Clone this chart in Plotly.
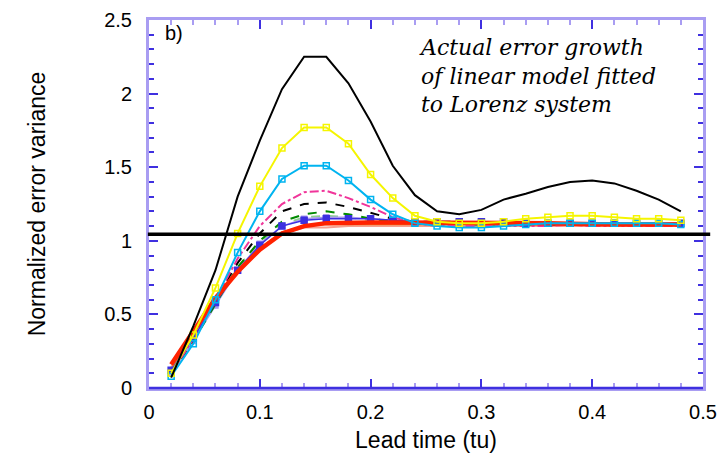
import plotly.graph_objects as go

lead_time = [0.02, 0.04, 0.06, 0.08, 0.10, 0.12, 0.14, 0.16, 0.18, 0.20, 0.22, 0.24,
             0.26, 0.28, 0.30, 0.32, 0.34, 0.36, 0.38, 0.40, 0.42, 0.44, 0.46, 0.48]

black_top = [0.07, 0.42, 0.80, 1.30, 1.68, 2.03, 2.25, 2.25, 2.07, 1.81, 1.51, 1.31,
             1.20, 1.18, 1.21, 1.28, 1.32, 1.365, 1.40, 1.41, 1.39, 1.34, 1.28, 1.20]
yellow = [0.10, 0.36, 0.68, 1.05, 1.37, 1.63, 1.77, 1.77, 1.66, 1.45, 1.29, 1.17,
          1.13, 1.12, 1.12, 1.13, 1.15, 1.16, 1.17, 1.17, 1.16, 1.15, 1.15, 1.14]
cyan = [0.08, 0.30, 0.60, 0.92, 1.20, 1.42, 1.51, 1.51, 1.41, 1.28, 1.18, 1.12,
        1.10, 1.09, 1.09, 1.10, 1.11, 1.12, 1.12, 1.12, 1.12, 1.12, 1.12, 1.11]
pink = [0.10, 0.33, 0.60, 0.88, 1.10, 1.25, 1.33, 1.34, 1.29, 1.23, 1.16, 1.12,
        1.10, 1.10, 1.10, 1.10, 1.10, 1.10, 1.11, 1.10, 1.10, 1.10, 1.10, 1.10]
black_dash = [0.10, 0.33, 0.60, 0.85, 1.05, 1.20, 1.25, 1.26, 1.23, 1.19, 1.15, 1.13,
              1.13, 1.13, 1.12, 1.12, 1.12, 1.11, 1.11, 1.11, 1.11, 1.11, 1.11, 1.11]
green = [0.10, 0.32, 0.57, 0.82, 1.00, 1.13, 1.18, 1.20, 1.18, 1.15, 1.13, 1.12,
         1.11, 1.11, 1.11, 1.11, 1.11, 1.11, 1.11, 1.11, 1.11, 1.11, 1.11, 1.11]
light_green = [0.11, 0.33, 0.58, 0.82, 0.99, 1.11, 1.16, 1.17, 1.16, 1.14, 1.13, 1.12,
               1.11, 1.11, 1.11, 1.11, 1.11, 1.11, 1.11, 1.11, 1.11, 1.11, 1.11, 1.11]
light_purple = [0.10, 0.32, 0.56, 0.80, 0.98, 1.10, 1.15, 1.16, 1.16, 1.15, 1.14, 1.13,
                1.12, 1.12, 1.12, 1.12, 1.12, 1.12, 1.12, 1.12, 1.12, 1.12, 1.12, 1.12]
blue = [0.12, 0.34, 0.58, 0.80, 0.97, 1.10, 1.14, 1.15, 1.15, 1.15, 1.14, 1.13,
        1.13, 1.13, 1.13, 1.13, 1.12, 1.12, 1.12, 1.12, 1.12, 1.12, 1.12, 1.12]
salmon = [0.14, 0.36, 0.59, 0.79, 0.95, 1.05, 1.09, 1.09, 1.10, 1.10, 1.10, 1.10,
          1.10, 1.10, 1.10, 1.10, 1.10, 1.10, 1.10, 1.10, 1.10, 1.10, 1.10, 1.10]
orange = [0.13, 0.37, 0.61, 0.80, 0.95, 1.06, 1.10, 1.11, 1.11, 1.11, 1.11, 1.11,
          1.11, 1.11, 1.11, 1.11, 1.11, 1.11, 1.11, 1.11, 1.11, 1.11, 1.11, 1.11]
red = [0.16, 0.39, 0.61, 0.79, 0.94, 1.05, 1.10, 1.12, 1.125, 1.125, 1.125, 1.125,
       1.125, 1.125, 1.125, 1.125, 1.12, 1.12, 1.115, 1.11, 1.11, 1.11, 1.11, 1.11]

saturation_level = 1.045

x_tick_vals = [0, 0.1, 0.2, 0.3, 0.4, 0.5]
x_tick_text = ["0", "0.1", "0.2", "0.3", "0.4", "0.5"]
y_tick_vals = [0, 0.5, 1, 1.5, 2, 2.5]
y_tick_text = ["0", "0.5", "1", "1.5", "2", "2.5"]

annotation_lines = ["Actual error growth", "of linear model fitted", "to Lorenz system"]

FRAME = "#a99df2"
TICK = "#3f30e0"

fig = go.Figure()

def add(y, color, width=1.5, dash="solid", symbol=None, msize=5, mfill=None):
    mode = "lines" if symbol is None else "lines+markers"
    marker = None
    if symbol is not None:
        marker = dict(symbol=symbol, size=msize, color=mfill or color,
                      line=dict(color=color, width=1.5))
    fig.add_trace(go.Scatter(x=lead_time, y=y, mode=mode,
                             line=dict(color=color, width=width, dash=dash),
                             marker=marker, showlegend=False, hoverinfo="skip"))

add(salmon, "#f4a090", width=2)
add(orange, "#f08a1e", width=1.5)
add(light_green, "#90d090", width=2, dash="dash")
add(light_purple, "#a898f0", width=1.5, symbol="square", msize=5)
add(green, "#008a00", width=2, dash="dash")
add(black_dash, "#000000", width=2, dash="dash")
add(pink, "#f0359a", width=2, dash="dashdot")
add(blue, "#3c30e0", width=1.5, symbol="square", msize=6)
add(red, "#ff2200", width=4.5)
add(cyan, "#00b4f0", width=2, symbol="square-open", msize=6)
add(yellow, "#f5f500", width=2, symbol="square-open", msize=6)
add(black_top, "#000000", width=2)

fig.add_shape(type="line", xref="paper", yref="y", x0=-0.002, x1=1.013,
              y0=saturation_level, y1=saturation_level,
              line=dict(color="black", width=3.5), layer="above")
fig.add_shape(type="line", xref="paper", yref="paper", x0=0, x1=1, y0=0, y1=0,
              line=dict(color=TICK, width=2.5), layer="above")

tick_font = dict(family="Liberation Sans, Arial, sans-serif", size=20, color="black")
title_font = dict(family="Liberation Sans, Arial, sans-serif", size=23, color="black")

fig.update_xaxes(range=[0, 0.5], tickvals=x_tick_vals, ticktext=x_tick_text,
                 ticks="inside", ticklen=9, tickwidth=2, tickcolor=TICK,
                 minor=dict(dtick=0.02, ticks="inside", ticklen=5, tickwidth=2, tickcolor=FRAME),
                 showgrid=False, zeroline=False, showline=True, linecolor=FRAME, linewidth=3,
                 mirror="ticks", automargin=False,
                 tickfont=tick_font, ticklabelstandoff=4,
                 title=dict(text="Lead time (tu)", standoff=10, font=title_font))
fig.update_yaxes(range=[0, 2.5], tickvals=y_tick_vals, ticktext=y_tick_text,
                 ticks="inside", ticklen=9, tickwidth=2, tickcolor=TICK,
                 minor=dict(dtick=0.1, ticks="inside", ticklen=5, tickwidth=2, tickcolor=TICK),
                 showgrid=False, zeroline=False, showline=True, linecolor=FRAME, linewidth=3,
                 mirror="ticks", automargin=False,
                 tickfont=tick_font, ticklabelstandoff=10,
                 title=dict(text="Normalized error variance", standoff=53, font=title_font))

fig.add_annotation(text="<i>" + "<br>".join(annotation_lines) + "</i>", xref="paper", yref="paper",
                   x=0.483, y=0.848, xanchor="left", yanchor="middle", align="left", showarrow=False,
                   font=dict(family="DejaVu Serif, serif", size=22, color="black"))
fig.add_annotation(text="b)", xref="paper", yref="paper", x=0.025, y=0.965,
                   xanchor="left", yanchor="middle", showarrow=False,
                   font=dict(family="Liberation Sans, Arial, sans-serif", size=20, color="black"))

fig.update_layout(width=723, height=453, margin=dict(l=149, r=20, t=20, b=65),
                  plot_bgcolor="white", paper_bgcolor="white",
                  font=dict(color="black"))

fig.write_html("out.html", config={"displayModeBar": False},
               post_script="document.body.style.margin='0';")
